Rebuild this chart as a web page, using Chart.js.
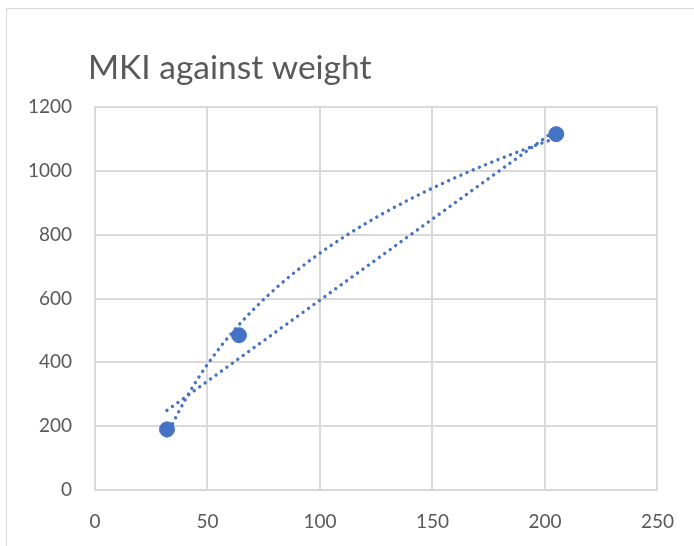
<!DOCTYPE html>
<html>
<head>
<meta charset="utf-8">
<script src="https://cdn.jsdelivr.net/npm/chart.js@4"></script>
<style>
  html, body { margin: 0; padding: 0; background: #fff; overflow: hidden; }
  #frame { position: absolute; left: 0; top: 0; width: 694px; height: 546px; }
  #border { position: absolute; left: 6px; top: 8px; width: 800px; height: 700px;
            border-left: 1px solid #d9d9d9; border-top: 1px solid #d9d9d9; }
  canvas { position: absolute; left: 0; top: 0; }
</style>
</head>
<body>
<div id="frame">
  <div id="border"></div>
  <canvas id="c" width="694" height="546"></canvas>
</div>
<script>
// Measured values
const weight = [32, 64, 205];
const mki = [190, 485, 1115];
const xTicks = [0, 50, 100, 150, 200, 250];
const yTicks = [0, 200, 400, 600, 800, 1000, 1200];
const chartTitle = 'MKI against weight';

const BLUE = '#4472C4';
const GREY_TEXT = '#595959';
const GRID = '#d9d9d9';
const FONT = 'Lato, "Open Sans", sans-serif';

// Least-squares fit helpers for the two trendlines
function fitLinear(xs, ys) {
  const n = xs.length;
  const mx = xs.reduce((a, b) => a + b, 0) / n;
  const my = ys.reduce((a, b) => a + b, 0) / n;
  let sxy = 0, sxx = 0;
  for (let i = 0; i < n; i++) { sxy += (xs[i] - mx) * (ys[i] - my); sxx += (xs[i] - mx) ** 2; }
  const slope = sxy / sxx;
  return { slope, intercept: my - slope * mx };
}
const lin = fitLinear(weight, mki);
const logFit = fitLinear(weight.map(Math.log), mki);

const xMin = Math.min(...weight), xMax = Math.max(...weight);
const linearTrend = [xMin, xMax].map(x => ({ x, y: lin.intercept + lin.slope * x }));
const logTrend = [];
for (let x = xMin; x <= xMax; x += 1) {
  logTrend.push({ x, y: logFit.intercept + logFit.slope * Math.log(x) });
}

const points = weight.map((x, i) => ({ x, y: mki[i] }));

const dotted = {
  showLine: true,
  borderColor: BLUE,
  borderWidth: 3.4,
  borderDash: [0.01, 6.7],
  borderCapStyle: 'round',
  pointRadius: 0,
  fill: false,
  tension: 0
};

const titlePlugin = {
  id: 'titleText',
  afterDraw(chart) {
    const ctx = chart.ctx;
    ctx.save();
    ctx.font = '33.5px ' + FONT;
    ctx.fillStyle = GREY_TEXT;
    ctx.textBaseline = 'alphabetic';
    ctx.textAlign = 'left';
    ctx.fillText(chartTitle, 88, 79);
    ctx.restore();
  }
};

const plain = v => String(v);

new Chart(document.getElementById('c'), {
  type: 'scatter',
  data: {
    datasets: [
      Object.assign({ label: 'Linear trend', data: linearTrend, order: 0 }, dotted),
      Object.assign({ label: 'Log trend', data: logTrend, order: 0 }, dotted),
      {
        label: 'MKI',
        data: points,
        backgroundColor: BLUE,
        borderColor: BLUE,
        pointRadius: 7.5,
        pointHoverRadius: 7.5,
        order: 1
      }
    ]
  },
  options: {
    responsive: false,
    animation: false,
    layout: { padding: { top: 107, right: 36, bottom: 0, left: 0 } },
    plugins: {
      legend: { display: false },
      title: { display: false },
      tooltip: { enabled: false }
    },
    scales: {
      x: {
        type: 'linear',
        min: xTicks[0],
        max: xTicks[xTicks.length - 1],
        afterBuildTicks: s => { s.ticks = xTicks.map(v => ({ value: v })); },
        afterFit: s => { s.height = 56; },
        grid: { color: GRID, lineWidth: 2, drawTicks: false },
        border: { display: true, color: GRID, width: 2 },
        ticks: { color: GREY_TEXT, font: { family: FONT, size: 19 }, padding: 20, callback: plain }
      },
      y: {
        type: 'linear',
        min: yTicks[0],
        max: yTicks[yTicks.length - 1],
        afterBuildTicks: s => { s.ticks = yTicks.map(v => ({ value: v })); },
        afterFit: s => { s.width = 95; },
        grid: { color: GRID, lineWidth: 2, drawTicks: false },
        border: { display: true, color: GRID, width: 2 },
        ticks: { color: GREY_TEXT, font: { family: FONT, size: 19 }, padding: 23, callback: plain }
      }
    }
  },
  plugins: [titlePlugin]
});
</script>
</body>
</html>
